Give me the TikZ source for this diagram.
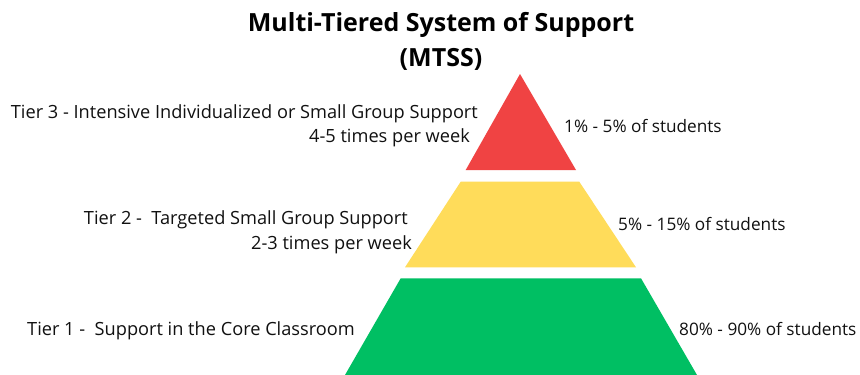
\documentclass[tikz,border=0pt]{standalone}
\usepackage{fontspec}
\setmainfont{Open Sans}
\definecolor{tierred}{HTML}{F04343}
\definecolor{tieryellow}{HTML}{FFDC5A}
\definecolor{tiergreen}{HTML}{00BF63}
\definecolor{inktext}{HTML}{111111}
\begin{document}
\begin{tikzpicture}[x=1pt,y=-1pt,
  titletext/.style={font=\fontsize{25}{30}\selectfont\bfseries, text=black, inner sep=0pt},
  tierlabel/.style={font=\fontsize{18.2}{24}\selectfont, text=inktext, align=right, anchor=east, inner sep=0pt},
  sharelabel/.style={font=\fontsize{17.2}{24}\selectfont, text=inktext, anchor=west, inner sep=0pt}]
\useasboundingbox (0,0) rectangle (860,375);
\fill[white] (0,0) rectangle (860,375);

% pyramid tiers
\fill[tierred] (520,74) -- (576,170) -- (465.7,170) -- cycle;
\fill[tieryellow] (460.7,181.7) -- (579.3,181.7) -- (636,267.3) -- (405,267.3) -- cycle;
\fill[tiergreen] (400.7,278.3) -- (641,278.3) -- (697,375) -- (345,375) -- cycle;

% title
\node[titletext] (title1) at (441,25) {Multi-Tiered System of Support};
\node[titletext] (title2) at (441,59) {(MTSS)};

% tier descriptions
\node[tierlabel] (t3a) at (478,114) {Tier 3 - Intensive Individualized or Small Group Support};
\node[tierlabel] (t3b) at (470,138) {4-5 times per week};
\node[tierlabel] (t2a) at (408,220) {Tier 2 - \ Targeted Small Group Support};
\node[tierlabel] (t2b) at (412,245) {2-3 times per week};
\node[tierlabel] (t1) at (355,331) {Tier 1 - \ Support in the Core Classroom};

% share of students
\node[sharelabel] (s3) at (564,126) {1\% - 5\% of students};
\node[sharelabel] (s2) at (618,224) {5\% - 15\% of students};
\node[sharelabel] (s1) at (679,329) {80\% - 90\% of students};
\end{tikzpicture}
\end{document}
